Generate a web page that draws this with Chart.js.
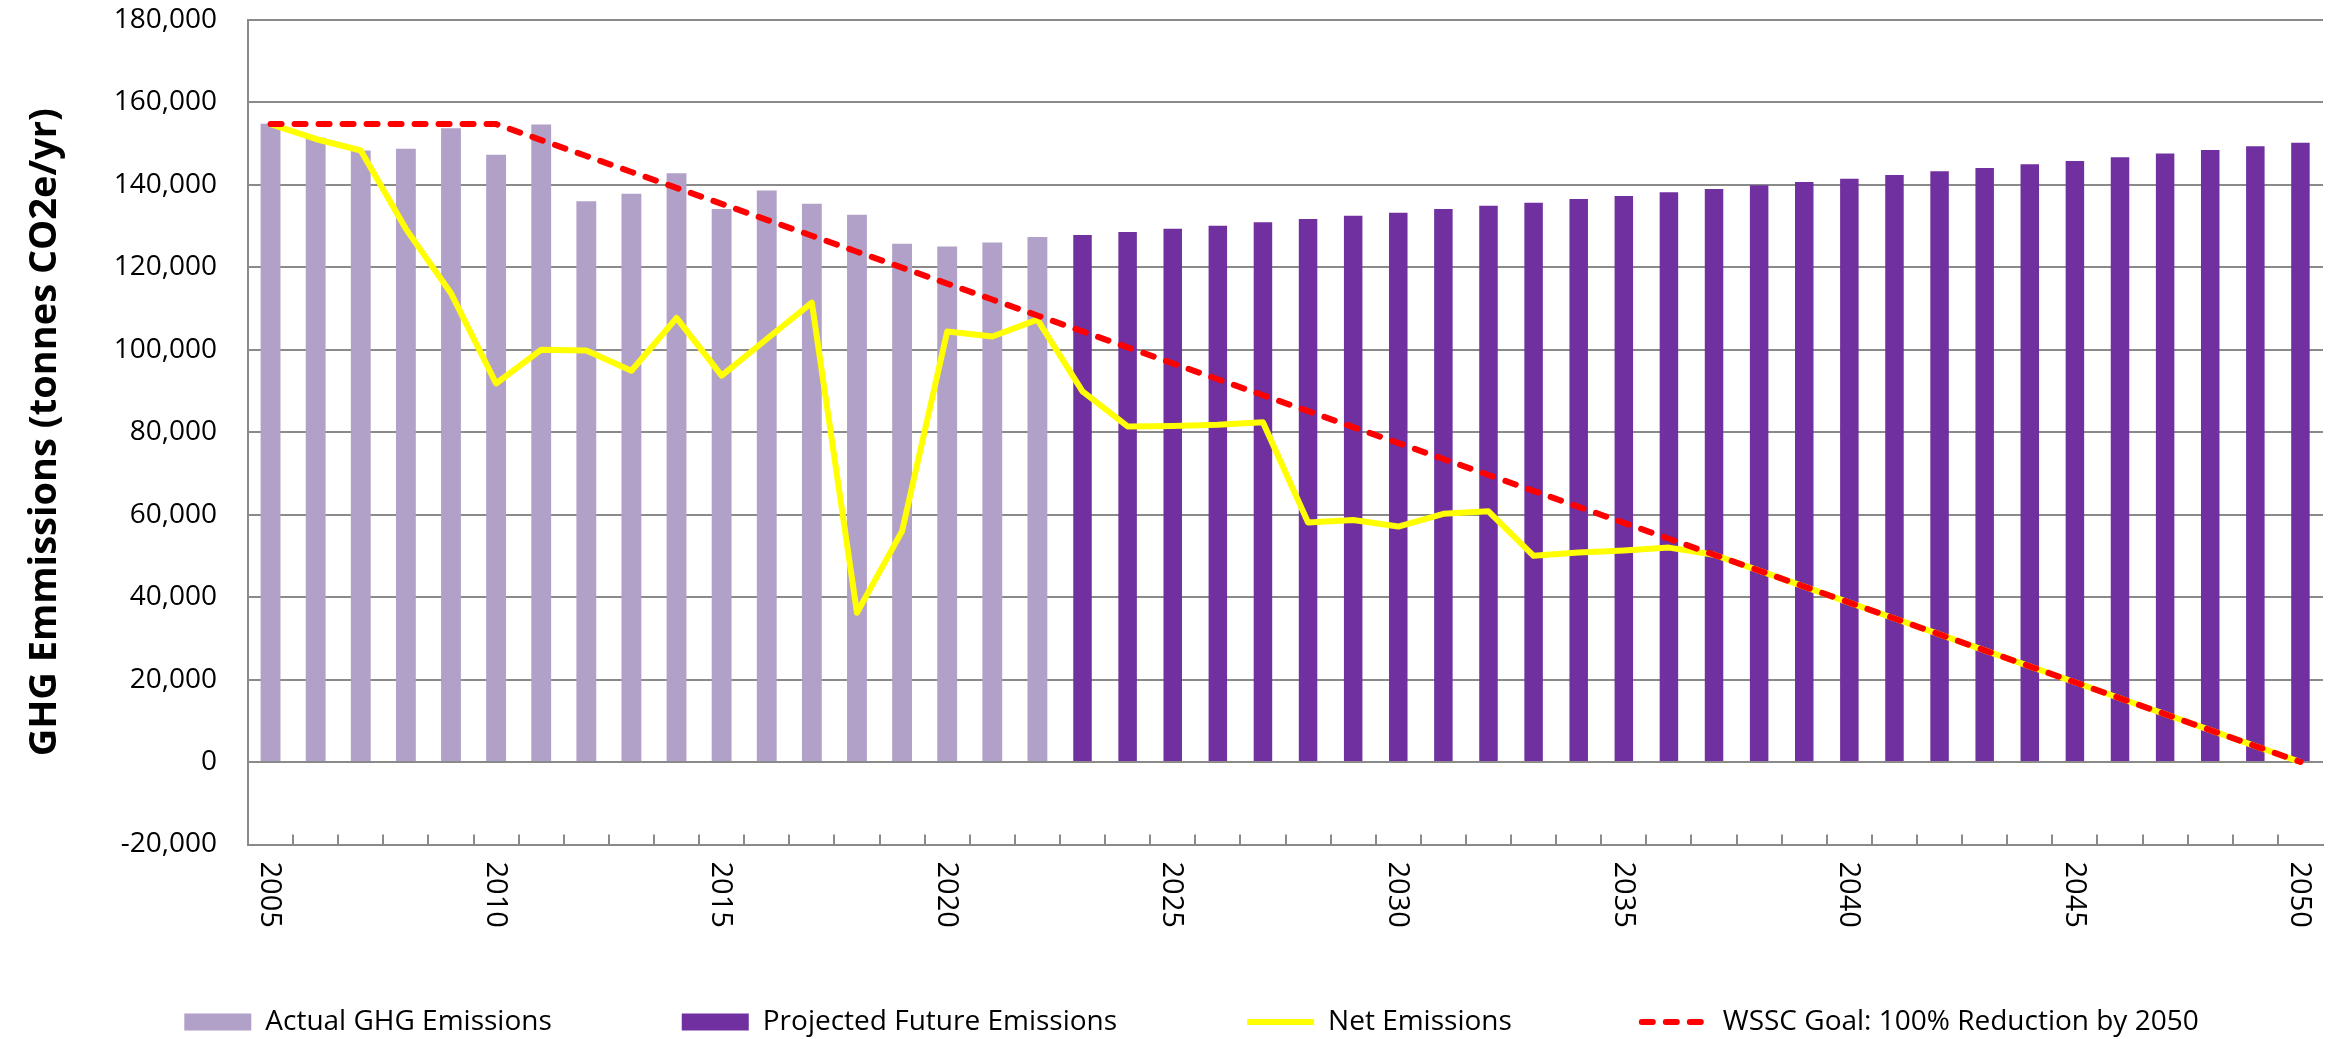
<!DOCTYPE html>
<html>
<head>
<meta charset="utf-8">
<script src="https://cdn.jsdelivr.net/npm/chart.js@4"></script>
<style>
html, body { margin: 0; padding: 0; background: #ffffff; }
canvas { display: block; }
</style>
</head>
<body>
<canvas id="c" width="2339" height="1039"></canvas>
<script>
// ---------- DATA ----------
const years = ['2005','2006','2007','2008','2009','2010','2011','2012','2013','2014',
  '2015','2016','2017','2018','2019','2020','2021','2022','2023','2024',
  '2025','2026','2027','2028','2029','2030','2031','2032','2033','2034',
  '2035','2036','2037','2038','2039','2040','2041','2042','2043','2044',
  '2045','2046','2047','2048','2049','2050'];

const shownYearLabels = ['2005','2010','2015','2020','2025','2030','2035','2040','2045','2050'];

// Actual GHG emissions, 2005-2022
const actualEmissions = [154800, 151400, 148300, 148700, 153700, 147300, 154600, 136000, 137800, 142800,
  134100, 138600, 135400, 132700, 125700, 125000, 126000, 127300];

// Projected future emissions, 2023-2050
const projectedEmissions = [127800, 128540, 129350, 130080, 130890, 131700, 132500, 133230, 134120, 134930,
  135660, 136550, 137270, 138160, 138970, 139860, 140670, 141480, 142370, 143260,
  144070, 144960, 145770, 146660, 147550, 148440, 149325, 150200];

// Net emissions, 2005-2050
const netEmissions = [154700, 151100, 148300, 129300, 113700, 91800, 100000, 99800, 94900, 107700,
  93700, 102600, 111400, 36200, 56000, 104400, 103200, 107300, 89900, 81400,
  81500, 81800, 82400, 58100, 58700, 57100, 60200, 60800, 50000, 50800,
  51300, 52000, 50278, 46410, 42543, 38675, 34808, 30940, 27073, 23205,
  19338, 15470, 11603, 7735, 3868, 0];

// WSSC goal, 2005-2050
const goalEmissions = [154700, 154700, 154700, 154700, 154700, 154700, 150833, 146965, 143098, 139230,
  135363, 131495, 127628, 123760, 119893, 116025, 112158, 108290, 104423, 100555,
  96688, 92820, 88953, 85085, 81218, 77350, 73483, 69615, 65748, 61880,
  58013, 54145, 50278, 46410, 42543, 38675, 34808, 30940, 27073, 23205,
  19338, 15470, 11603, 7735, 3868, 0];

const seriesNames = ['Actual GHG Emissions', 'Projected Future Emissions', 'Net Emissions', 'WSSC Goal: 100% Reduction by 2050'];
const yAxisTitle = 'GHG Emmissions (tonnes CO2e/yr)';

// ---------- BUILD ----------
const nActual = actualEmissions.length;
const actualData = years.map((y, i) => i < nActual ? actualEmissions[i] : null);
const projectedData = years.map((y, i) => i >= nActual ? projectedEmissions[i - nActual] : null);

const GRID = '#8a8a8a';
const FONT = "'Open Sans', 'DejaVu Sans', sans-serif";
Chart.defaults.font.family = FONT;
Chart.defaults.color = '#000000';

const decor = {
  id: 'decor',
  afterLayout(chart) {
    const l = chart.legend;
    if (l) { l.left += 30; l.right += 30; l.top += 7; l.bottom += 7; }
  },
  afterDraw(chart) {
    const ctx = chart.ctx;
    const xs = chart.scales.x;
    const area = chart.chartArea;
    ctx.save();
    // inside tick marks at category boundaries
    ctx.strokeStyle = GRID;
    ctx.lineWidth = 2;
    ctx.beginPath();
    for (let i = 1; i < years.length; i++) {
      const x = Math.round(xs.getPixelForValue(i - 0.5));
      ctx.moveTo(x, area.bottom);
      ctx.lineTo(x, area.bottom - 10);
    }
    ctx.stroke();
    // rotated year labels (reading top to bottom)
    ctx.fillStyle = '#000000';
    ctx.font = "29px " + FONT;
    ctx.textAlign = 'left';
    ctx.textBaseline = 'middle';
    years.forEach((yr, i) => {
      if (!shownYearLabels.includes(yr)) return;
      const x = xs.getPixelForValue(i);
      ctx.save();
      ctx.translate(x - 1, area.bottom + 17);
      ctx.rotate(Math.PI / 2);
      ctx.fillText(yr, 0, 0);
      ctx.restore();
    });
    ctx.restore();
  }
};

new Chart(document.getElementById('c'), {
  type: 'bar',
  data: {
    labels: years,
    datasets: [
      {
        type: 'bar', label: seriesNames[0], data: actualData,
        backgroundColor: '#B1A0C7', grouped: false,
        barPercentage: 0.44, categoryPercentage: 1.0, order: 4
      },
      {
        type: 'bar', label: seriesNames[1], data: projectedData,
        backgroundColor: '#7030A0', grouped: false,
        barPercentage: 0.41, categoryPercentage: 1.0, order: 3
      },
      {
        type: 'line', label: seriesNames[2], data: netEmissions,
        borderColor: '#FFFF00', backgroundColor: '#FFFF00', borderWidth: 6,
        pointRadius: 0, tension: 0, borderJoinStyle: 'round', order: 2
      },
      {
        type: 'line', label: seriesNames[3], data: goalEmissions,
        borderColor: '#FF0000', backgroundColor: '#FF0000', borderWidth: 6,
        borderDash: [11, 13], borderCapStyle: 'round',
        pointRadius: 0, tension: 0, order: 1
      }
    ]
  },
  options: {
    responsive: false,
    devicePixelRatio: 1,
    animation: false,
    layout: { padding: { left: 0, right: 16, top: 0, bottom: 0 } },
    plugins: {
      tooltip: { enabled: false },
      legend: {
        position: 'bottom',
        labels: {
          font: { size: 28, family: FONT },
          color: '#000000',
          usePointStyle: true,
          pointStyleWidth: 67,
          boxHeight: 17,
          padding: 130,
          generateLabels: (chart) => chart.data.datasets.map((ds, i) => ({
            text: ds.label,
            datasetIndex: i,
            fillStyle: ds.type === 'line' ? 'rgba(0,0,0,0)' : ds.backgroundColor,
            strokeStyle: ds.type === 'line' ? ds.borderColor : ds.backgroundColor,
            lineWidth: ds.type === 'line' ? 6 : 0,
            lineDash: ds.borderDash || [],
            lineCap: ds.borderDash ? 'round' : 'butt',
            pointStyle: ds.type === 'line' ? 'line' : 'rect',
            hidden: false,
            fontColor: '#000000'
          }))
        }
      }
    },
    scales: {
      x: {
        type: 'category',
        grid: { display: false },
        border: { display: true, color: GRID, width: 2 },
        ticks: { display: false },
        afterFit(scale) { scale.height = 26.5; }
      },
      y: {
        min: -20000, max: 180000,
        ticks: { stepSize: 20000, padding: 3, color: '#000000', font: { size: 28, family: FONT } },
        grid: { color: GRID, lineWidth: 2, drawTicks: true, tickLength: 28, tickColor: 'rgba(0,0,0,0)' },
        border: { display: true, color: GRID, width: 2 },
        title: {
          display: true, text: yAxisTitle, color: '#000000',
          font: { size: 38, weight: 'bold', family: FONT },
          padding: { top: 22, bottom: 0 }
        },
        afterFit(scale) { scale.width = 248; }
      }
    }
  },
  plugins: [decor]
});
</script>
</body>
</html>
